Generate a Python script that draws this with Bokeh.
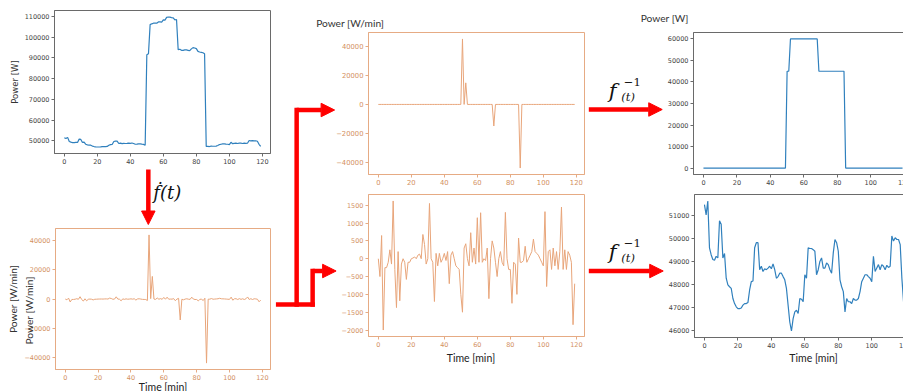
import math
from bokeh.plotting import figure
from bokeh.models import (Range1d, FixedTicker, CustomJSTickFormatter, Label,
                          Arrow, NormalHead, Column)
from bokeh.embed import file_html
from bokeh.resources import INLINE

# ---------------- data ----------------
minutes = list(range(120))

# total power [W]
power_total = [
    51470, 51030, 51610, 49600, 49300, 49090, 49060, 49230, 49160, 50770,
    50620, 49160, 49350, 48280, 47990, 47910, 47840, 47400, 47180, 47040,
    46960, 46960, 46990, 47110, 47180, 47180, 47230, 47770, 48130, 48160,
    49600, 49820, 49820, 48650, 48800, 48570, 48690, 48650, 48720, 48800,
    48690, 48900, 48650, 48280, 48350, 48500, 48500, 48350, 48210, 47840,
    91500, 92000, 106100, 106500, 106800, 106900, 106800, 107400, 107400, 107300,
    108400, 108300, 109600, 109800, 109700, 109500, 109400, 108400, 108600, 94000,
    94200, 93700, 93700, 93900, 93900, 93700, 93500, 94400, 95000, 94800,
    94500, 93200, 92900, 92700, 92500, 92000, 47260, 47260, 47180, 47400,
    47330, 47330, 47400, 47700, 48130, 48280, 48430, 48430, 48350, 48280,
    48130, 49230, 48570, 48720, 48870, 48650, 48870, 48800, 48650, 48840,
    48750, 48800, 50110, 49890, 50040, 49960, 49960, 49740, 48280, 47260,
]

# derivative of total power [W/min]
rate_total = [
    0, -500, 650, -2000, -250, -250, -100, 250, -150, 1620,
    -300, -1370, 200, -1180, -150, 0, -100, -580, -100, -100,
    0, 20, 50, 0, 100, 130, 0, 680, 400, -150,
    0, 1550, 0, -100, -1200, 150, -200, 150, -100, 0,
    150, -50, 200, -700, 100, 200, 0, -200, -250, -300,
    -1000, 43900, 300, 15500, 0, -200, 730, -100, 300, -150,
    1150, -100, 1290, -100, 0, -50, 300, -1120, 0, 500,
    -14300, -100, -500, 0, 200, -100, -200, 1300, 0, -300,
    -300, -1250, -100, -150, -1000, 580, -43800, -100, -50, 350,
    -100, 0, 100, 200, 550, 200, 150, 100, 0, -100,
    -200, 1320, -780, 200, 250, -300, 300, -200, 200, -300,
    200, 1450, -300, 250, -300, 200, 100, -100, -1850, -700,
]

# derivative of the flexible (step) part [W/min]
rate_step = [
    0, 0, 0, 0, 0, 0, 0, 0, 0, 0,
    0, 0, 0, 0, 0, 0, 0, 0, 0, 0,
    0, 0, 0, 0, 0, 0, 0, 0, 0, 0,
    0, 0, 0, 0, 0, 0, 0, 0, 0, 0,
    0, 0, 0, 0, 0, 0, 0, 0, 0, 0,
    0, 45500, 0, 15000, 0, 0, 0, 0, 0, 0,
    0, 0, 0, 0, 0, 0, 0, 0, 0, 0,
    -15000, 0, 0, 0, 0, 0, 0, 0, 0, 0,
    0, 0, 0, 0, 0, 0, -44200, 0, 0, 0,
    0, 0, 0, 0, 0, 0, 0, 0, 0, 0,
    0, 0, 0, 0, 0, 0, 0, 0, 0, 0,
    0, 0, 0, 0, 0, 0, 0, 0, 0, 0,
]

# derivative of the base part [W/min]
rate_base = [
    0, -500, 650, -2000, -250, -250, -100, 250, -150, 1620,
    -300, -1370, 200, -1180, -150, 0, -100, -580, -100, -100,
    0, 20, 50, 0, 100, 130, 0, 680, 400, -150,
    0, 1550, 0, -100, -1200, 150, -200, 150, -100, 0,
    150, -50, 200, -700, 100, 200, 0, -200, -250, -300,
    -1000, -1500, 300, 420, 0, -200, 730, -100, 300, -150,
    1150, -100, 1290, -100, 0, -50, 300, -1120, 0, 500,
    300, -100, -500, 0, 200, -100, -200, 1300, 0, -300,
    -300, -1250, -100, -150, -1000, 580, -100, -100, -50, 350,
    -100, 0, 100, 200, 550, 200, 150, 100, 0, -100,
    -200, 1320, -780, 200, 250, -300, 300, -200, 200, -300,
    200, 1450, -300, 250, -300, 200, 100, -100, -1850, -700,
]

# reconstructed step part [W]
power_step = [
    0, 0, 0, 0, 0, 0, 0, 0, 0, 0,
    0, 0, 0, 0, 0, 0, 0, 0, 0, 0,
    0, 0, 0, 0, 0, 0, 0, 0, 0, 0,
    0, 0, 0, 0, 0, 0, 0, 0, 0, 0,
    0, 0, 0, 0, 0, 0, 0, 0, 0, 0,
    45000, 45000, 60000, 60000, 60000, 60000, 60000, 60000, 60000, 60000,
    60000, 60000, 60000, 60000, 60000, 60000, 60000, 60000, 60000, 45000,
    45000, 45000, 45000, 45000, 45000, 45000, 45000, 45000, 45000, 45000,
    45000, 45000, 45000, 45000, 45000, 0, 0, 0, 0, 0,
    0, 0, 0, 0, 0, 0, 0, 0, 0, 0,
    0, 0, 0, 0, 0, 0, 0, 0, 0, 0,
    0, 0, 0, 0, 0, 0, 0, 0, 0, 0,
]

# reconstructed base part [W]
power_base = [
    51470, 51030, 51630, 49600, 49300, 49090, 49060, 49230, 49160, 50770,
    50620, 49160, 49350, 48280, 47990, 47910, 47840, 47400, 47180, 47040,
    46960, 46960, 46990, 47110, 47180, 47180, 47230, 47770, 48130, 48160,
    49600, 49820, 49820, 48650, 48800, 48570, 48690, 48650, 48720, 48800,
    48690, 48900, 48650, 48280, 48350, 48500, 48500, 48350, 48210, 47840,
    47110, 46380, 45990, 46530, 46820, 46890, 46750, 47400, 47370, 47260,
    48430, 48280, 49600, 49570, 49570, 49520, 49450, 48430, 48650, 49010,
    49160, 48720, 48720, 48940, 48870, 48650, 48500, 49380, 49960, 49820,
    49450, 48210, 47910, 47700, 46820, 47400, 47260, 47260, 47180, 47400,
    47330, 47330, 47400, 47700, 48130, 48280, 48430, 48430, 48350, 48280,
    48130, 49230, 48570, 48720, 48870, 48650, 48870, 48800, 48650, 48840,
    48750, 48800, 50110, 49890, 50040, 49960, 49960, 49740, 48280, 47260,
]

x_ticks = [0, 20, 40, 60, 80, 100, 120]
y_ticks_total = [50000, 60000, 70000, 80000, 90000, 100000, 110000]
y_ticks_rate = [-40000, -20000, 0, 20000, 40000]
y_ticks_base_rate = [-2000, -1500, -1000, -500, 0, 500, 1000, 1500]
y_ticks_step = [0, 10000, 20000, 30000, 40000, 50000, 60000]
y_ticks_base = [46000, 47000, 48000, 49000, 50000, 51000]

# ---------------- styling ----------------
BLUE = "#3080bd"
BLUE_SPINE = "#6a6a6a"
BLUE_TXT = "#444444"
ORANGE = "#e8a57a"
ORANGE_SPINE = "#e6ab84"
ORANGE_TXT = "#d3915f"
RED = "#ff0000"
BL, BR = 50, 6          # common left / right borders (columns align plot frames)

FMT = CustomJSTickFormatter(code="return tick < 0 ? '\u2212' + String(-tick) : String(tick);")


def padded(vals, frac=0.05):
    lo, hi = min(vals), max(vals)
    m = (hi - lo) * frac
    return Range1d(lo - m, hi + m)


def panel(y, yticks, color, spine, txt, frame_left, top, bt, bb, fw, fh,
          lw=1.2, ylabel=None, label_font="DejaVu Sans", label_size="8.5px",
          tick_size="6.5px"):
    left = frame_left - BL
    p = figure(width=BL + fw + BR, height=bt + fh + bb,
               x_range=padded(minutes), y_range=padded(y),
               output_backend="svg", toolbar_location=None, title=None,
               min_border_left=BL, min_border_top=bt,
               min_border_right=BR, min_border_bottom=bb,
               background_fill_color=None, border_fill_color=None,
               outline_line_color=spine, outline_line_width=1,
               styles={"position": "absolute", "left": f"{left}px", "top": f"{top}px"})
    p.line(x=minutes, y=y, line_color=color, line_width=lw)
    p.grid.visible = False
    p.xaxis.ticker = FixedTicker(ticks=x_ticks, minor_ticks=[])
    p.yaxis.ticker = FixedTicker(ticks=yticks, minor_ticks=[])
    for ax in (p.xaxis[0], p.yaxis[0]):
        ax.formatter = FMT
        ax.axis_line_color = spine
        ax.major_tick_line_color = spine
        ax.minor_tick_line_color = None
        ax.major_tick_in = 0
        ax.major_tick_out = 3
        ax.major_label_standoff = 2
        ax.major_label_text_font = "DejaVu Sans"
        ax.major_label_text_font_size = tick_size
        ax.major_label_text_color = txt
    if ylabel:
        p.yaxis.axis_label = ylabel
        p.yaxis.axis_label_text_font = label_font
        p.yaxis.axis_label_text_font_size = label_size
        p.yaxis.axis_label_text_font_style = "normal"
        p.yaxis.axis_label_text_color = "#333333"
        p.yaxis.axis_label_standoff = 2
    return p


pA = panel(power_total, y_ticks_total, BLUE, BLUE_SPINE, BLUE_TXT,
           53, 0, 10, 20, 217, 143, ylabel="Power [W]")
pB = panel(rate_total, y_ticks_rate, ORANGE, ORANGE_SPINE, ORANGE_TXT,
           54, 224, 4, 20, 216, 141, lw=1.0, ylabel="Power [W/min]",
           label_font="Lato", label_size="10.2px")
pC = panel(rate_step, y_ticks_rate, ORANGE, ORANGE_SPINE, ORANGE_TXT,
           367, 28, 4, 16, 217, 142, lw=1.0, tick_size="6.8px")
pD = panel(rate_base, y_ticks_base_rate, ORANGE, ORANGE_SPINE, ORANGE_TXT,
           367, 190, 4, 16, 217, 142, lw=1.0)
pE = panel(power_step, y_ticks_step, BLUE, BLUE_SPINE, BLUE_TXT,
           692, 28, 4, 16, 220, 142)
pF = panel(power_base, y_ticks_base, BLUE, BLUE_SPINE, BLUE_TXT,
           693, 190, 4, 16, 220, 143)

# ---------------- overlay with arrows and free texts ----------------
# shifted left by BL so that its frame starts at the page's left edge:
# frame spans page x = 0 .. 903-BL-BR, so 1 unit = 1 pixel
BG_W = 903 - BL - BR
bg = figure(width=903, height=391, x_range=Range1d(0, BG_W), y_range=Range1d(391, 0),
            x_axis_type=None, y_axis_type=None, output_backend="svg",
            toolbar_location=None, title=None,
            min_border_left=BL, min_border_right=BR, min_border_top=0, min_border_bottom=0,
            background_fill_color=None, border_fill_color=None, outline_line_color=None,
            styles={"position": "absolute", "left": f"-{BL}px", "top": "0px"})
bg.grid.visible = False


def seg(x0, y0, x1, y1):
    bg.add_layout(Arrow(start=None, end=None, x_start=x0, y_start=y0, x_end=x1, y_end=y1,
                        line_color=RED, line_width=4.5, line_cap="square"))


def arrow(x0, y0, x1, y1):
    bg.add_layout(Arrow(start=None,
                        end=NormalHead(size=13.5, fill_color=RED, line_color=RED, line_width=1),
                        x_start=x0, y_start=y0, x_end=x1, y_end=y1,
                        line_color=RED, line_width=4.5))


# derivative arrow (down)
arrow(147, 169, 147, 224)
# connector from the derivative to the two split parts
seg(277, 304, 311.5, 304)
seg(295.5, 304, 295.5, 109.5)
arrow(295.5, 109.5, 333.5, 109.5)
seg(311.5, 304, 311.5, 270.5)
arrow(311.5, 270.5, 335, 270.5)
# integration arrows
arrow(588, 109, 661.5, 109)
arrow(588, 270.5, 662.5, 270.5)


def txt(x, y, text, font="Lato", size="10.2px", color="#333333", align="left",
        baseline="middle", angle=0.0, style="normal"):
    bg.add_layout(Label(x=x, y=y, text=text, text_font=font, text_font_size=size,
                        text_color=color, text_align=align, text_baseline=baseline,
                        angle=angle, text_font_style=style))


txt(315, 22.7, "Power [W/min]")
txt(640, 17.3, "Power [W]")
txt(470, 357.3, "Time [min]", size="10.5px", color="#222222", align="center")
txt(813, 357.3, "Time [min]", size="10.5px", color="#222222", align="center")
txt(161.7, 386.7, "Time [min]", size="10.5px", color="#222222", align="center")
txt(27.2, 310, "Power [W/min]", align="center", angle=math.pi / 2)

# math labels
txt(152, 192, "\u1e1f(t)", font="DejaVu Serif", size="18px", color="#111111", style="italic")
for dy in (0, 161):
    txt(608, 90 + dy, "f", font="DejaVu Serif", size="21px", color="#111111", style="italic")
    txt(623, 81.5 + dy, "\u22121", font="DejaVu Serif", size="11.5px", color="#111111")
    txt(620.5, 96.5 + dy, "(t)", font="DejaVu Serif", size="11.5px", color="#111111", style="italic")

root = Column(children=[pA, pB, pC, pD, pE, pF, bg], width=903, height=391,
              sizing_mode="fixed",
              styles={"position": "relative", "overflow": "hidden"})

open("out.html", "w").write(file_html(root, INLINE))
